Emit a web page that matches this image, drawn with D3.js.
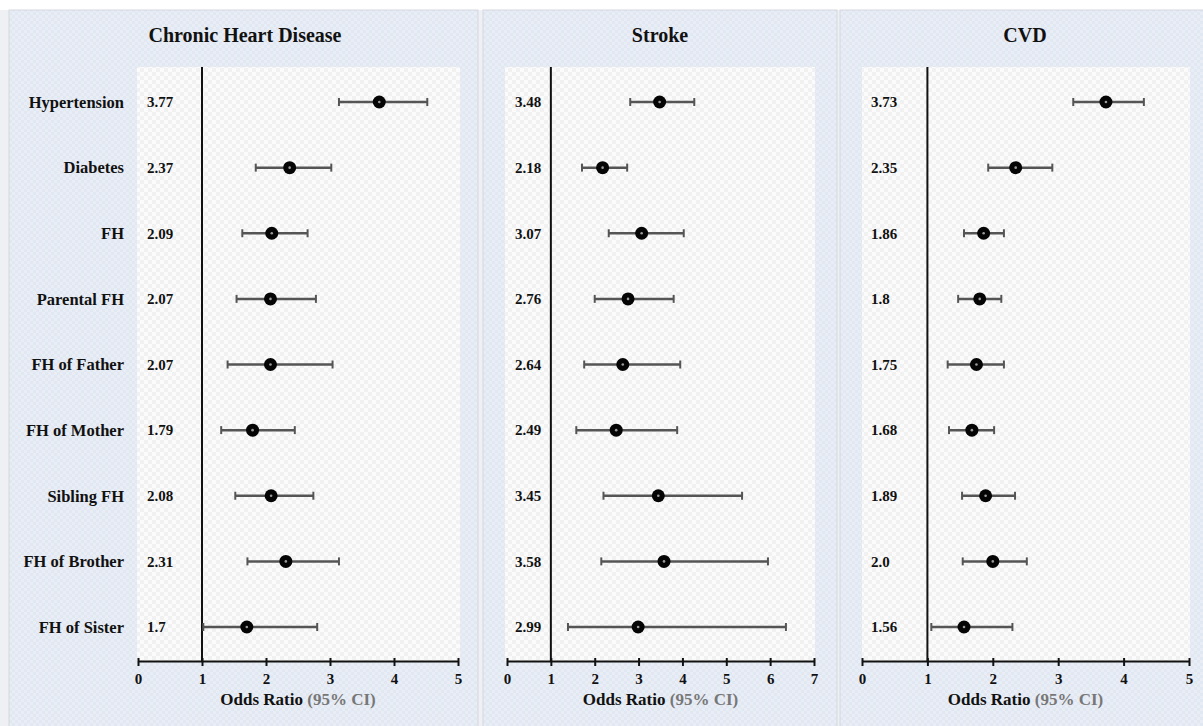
<!DOCTYPE html>
<html>
<head>
<meta charset="utf-8">
<script src="https://cdn.jsdelivr.net/npm/d3@7"></script>
<style>
  body { margin: 0; background: #fff; }
  svg { display: block; }
  text { font-family: "Liberation Serif", "Times New Roman", serif; font-weight: bold; }
</style>
</head>
<body>
<svg id="chart" width="1203" height="726"></svg>
<script>
// DATA
const categories = ["Hypertension", "Diabetes", "FH", "Parental FH", "FH of Father",
  "FH of Mother", "Sibling FH", "FH of Brother", "FH of Sister"];

const chdText = ["3.77", "2.37", "2.09", "2.07", "2.07", "1.79", "2.08", "2.31", "1.7"];
const chdLo = [3.14, 1.84, 1.63, 1.54, 1.40, 1.30, 1.52, 1.71, 1.02];
const chdHi = [4.52, 3.02, 2.65, 2.78, 3.04, 2.45, 2.74, 3.14, 2.80];

const strokeText = ["3.48", "2.18", "3.07", "2.76", "2.64", "2.49", "3.45", "3.58", "2.99"];
const strokeLo = [2.81, 1.71, 2.32, 2.00, 1.76, 1.58, 2.20, 2.15, 1.39];
const strokeHi = [4.27, 2.74, 4.03, 3.80, 3.95, 3.88, 5.36, 5.95, 6.36];

const cvdText = ["3.73", "2.35", "1.86", "1.8", "1.75", "1.68", "1.89", "2.0", "1.56"];
const cvdLo = [3.23, 1.93, 1.56, 1.47, 1.31, 1.33, 1.53, 1.54, 1.06];
const cvdHi = [4.31, 2.91, 2.17, 2.13, 2.17, 2.02, 2.34, 2.52, 2.30];

const xTicks1 = [0, 1, 2, 3, 4, 5];
const xTicks2 = [0, 1, 2, 3, 4, 5, 6, 7];

// LAYOUT
const panels = [
  { title: "Chronic Heart Disease", text: chdText, lo: chdLo, hi: chdHi, max: 5, ticks: xTicks1,
    box: [9, 478], plot: [137, 460], axis: [138, 458], valX: 147, labels: true, titleX: 245 },
  { title: "Stroke", text: strokeText, lo: strokeLo, hi: strokeHi, max: 7, ticks: xTicks2,
    box: [483, 837], plot: [505, 815], axis: [507, 814], valX: 515, labels: false, titleX: 660 },
  { title: "CVD", text: cvdText, lo: cvdLo, hi: cvdHi, max: 5, ticks: xTicks1,
    box: [840, 1210], plot: [862, 1190], axis: [862, 1189], valX: 871, labels: false, titleX: 1025 }
];

const plotTop = 67, axisY = 661;
const svg = d3.select("#chart");

// background textures
const defs = svg.append("defs");
const outerPat = defs.append("pattern").attr("id", "outerPat")
  .attr("width", 6).attr("height", 6).attr("patternUnits", "userSpaceOnUse");
outerPat.append("rect").attr("width", 6).attr("height", 6).attr("fill", "#e2e8f2");
outerPat.append("rect").attr("width", 3).attr("height", 3).attr("fill", "#e9edf5");
outerPat.append("rect").attr("x", 3).attr("y", 3).attr("width", 3).attr("height", 3).attr("fill", "#e9edf5");

const innerPat = defs.append("pattern").attr("id", "innerPat")
  .attr("width", 8).attr("height", 8).attr("patternUnits", "userSpaceOnUse");
innerPat.append("rect").attr("width", 8).attr("height", 8).attr("fill", "#fbfbfb");
innerPat.append("rect").attr("width", 4).attr("height", 4).attr("fill", "#f1f1f1");
innerPat.append("rect").attr("x", 4).attr("y", 4).attr("width", 4).attr("height", 4).attr("fill", "#f1f1f1");

svg.append("rect").attr("x", 0).attr("y", 10).attr("width", 1203).attr("height", 716).attr("fill", "#eef0f3");

const y = d3.scalePoint().domain(categories).range([102, 627]);

panels.forEach((p) => {
  const g = svg.append("g");
  const x = d3.scaleLinear().domain([0, p.max]).range(p.axis);

  g.append("rect")
    .attr("x", p.box[0]).attr("y", 10)
    .attr("width", p.box[1] - p.box[0]).attr("height", 730)
    .attr("fill", "url(#outerPat)")
    .attr("stroke", "#d3d7de").attr("stroke-width", 1);

  g.append("rect")
    .attr("x", p.plot[0]).attr("y", plotTop)
    .attr("width", p.plot[1] - p.plot[0]).attr("height", axisY - plotTop)
    .attr("fill", "url(#innerPat)");

  g.append("text")
    .attr("x", p.titleX).attr("y", 42)
    .attr("text-anchor", "middle")
    .style("font-size", "20px").attr("fill", "#111")
    .text(p.title);

  // reference line at OR = 1
  g.append("line")
    .attr("x1", x(1)).attr("x2", x(1))
    .attr("y1", plotTop).attr("y2", axisY)
    .attr("stroke", "#111").attr("stroke-width", 2);

  // axis
  const ax = g.append("g")
    .attr("transform", `translate(0,${axisY})`)
    .call(d3.axisBottom(x).tickValues(p.ticks).tickFormat(d3.format("d"))
      .tickSize(6).tickSizeOuter(0).tickPadding(6));
  ax.select(".domain").attr("stroke", "#111").attr("stroke-width", 2);
  ax.selectAll(".tick line").attr("stroke", "#111").attr("stroke-width", 2).attr("y1", -3).attr("y2", 5);
  ax.selectAll(".tick text")
    .attr("fill", "#111")
    .style("font-family", "'Liberation Serif', serif")
    .style("font-weight", "bold").style("font-size", "15px");

  const xl = g.append("text")
    .attr("x", (p.axis[0] + p.axis[1]) / 2).attr("y", 705)
    .attr("text-anchor", "middle").style("font-size", "17px");
  xl.append("tspan").attr("fill", "#111").text("Odds Ratio ");
  xl.append("tspan").attr("fill", "#777").text("(95% CI)");

  const rows = categories.map((c, i) => ({
    cat: c, txt: p.text[i], or: +p.text[i], lo: p.lo[i], hi: p.hi[i]
  }));

  if (p.labels) {
    g.selectAll(".cat").data(rows).join("text")
      .attr("class", "cat")
      .attr("x", 124).attr("y", (d) => y(d.cat))
      .attr("dy", "0.35em").attr("text-anchor", "end")
      .style("font-size", "16.5px").attr("fill", "#111")
      .text((d) => d.cat);
  }

  g.selectAll(".val").data(rows).join("text")
    .attr("class", "val")
    .attr("x", p.valX).attr("y", (d) => y(d.cat))
    .attr("dy", "0.35em")
    .style("font-size", "15px").attr("fill", "#111")
    .text((d) => d.txt);

  // CI whiskers
  g.selectAll(".ci").data(rows).join("line")
    .attr("class", "ci")
    .attr("x1", (d) => x(d.lo)).attr("x2", (d) => x(d.hi))
    .attr("y1", (d) => y(d.cat)).attr("y2", (d) => y(d.cat))
    .attr("stroke", "#555").attr("stroke-width", 2.5);

  ["lo", "hi"].forEach((k) => {
    g.selectAll(".cap-" + k).data(rows).join("line")
      .attr("class", "cap-" + k)
      .attr("x1", (d) => x(d[k])).attr("x2", (d) => x(d[k]))
      .attr("y1", (d) => y(d.cat) - 4).attr("y2", (d) => y(d.cat) + 4)
      .attr("stroke", "#555").attr("stroke-width", 2);
  });

  g.selectAll(".pt").data(rows).join("circle")
    .attr("class", "pt")
    .attr("cx", (d) => x(d.or)).attr("cy", (d) => y(d.cat))
    .attr("r", 6.5).attr("fill", "#050505");

  g.selectAll(".pt-c").data(rows).join("circle")
    .attr("class", "pt-c")
    .attr("cx", (d) => x(d.or)).attr("cy", (d) => y(d.cat))
    .attr("r", 1.3).attr("fill", "#9a9a9a");
});
</script>
</body>
</html>
